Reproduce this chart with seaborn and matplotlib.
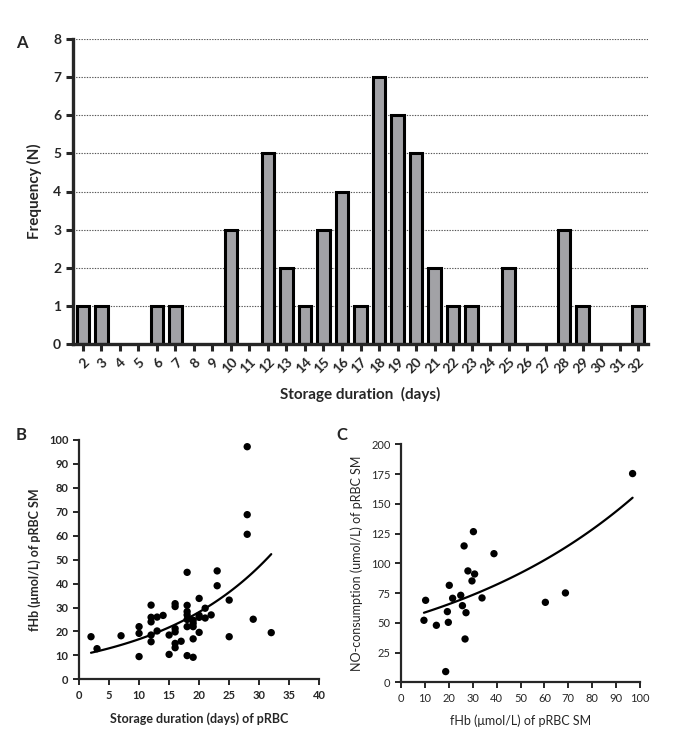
import numpy as np
import pandas as pd
import matplotlib
matplotlib.use('Agg')
import matplotlib.pyplot as plt
import seaborn as sns

# panel A: storage duration histogram
days_all = list(range(2, 33))
hist_days = [2, 3, 6, 7, 10, 12, 13, 14, 15, 16, 17, 18, 19, 20, 21, 22, 23, 25, 28, 29, 32]
hist_counts = [1, 1, 1, 1, 3, 5, 2, 1, 3, 4, 1, 7, 6, 5, 2, 1, 1, 2, 3, 1, 1]

# panel B: storage duration vs fHb
b_days = [2, 3, 7, 10, 10, 10, 12, 12, 12, 12, 12, 13, 13, 14, 15, 15,
          16, 16, 16, 16, 16, 16, 17, 18, 18, 18, 18, 18, 18, 18,
          19, 19, 19, 19, 19, 20, 20, 20, 20, 21, 21, 22, 23, 23,
          25, 25, 28, 28, 28, 29, 32]
b_fhb = [17.8, 12.8, 18.2, 22.0, 19.2, 9.5, 31.0, 25.9, 24.0, 18.5, 15.7, 26.0, 20.2, 26.7, 18.5, 10.4,
         31.6, 30.4, 21.2, 19.8, 15.0, 13.2, 15.9, 44.7, 30.9, 28.3, 26.9, 25.0, 22.0, 9.9,
         24.7, 23.4, 22.0, 16.9, 9.2, 33.8, 26.7, 25.9, 19.6, 29.7, 25.6, 26.9, 45.3, 39.1,
         33.1, 17.8, 97.2, 68.8, 60.6, 25.1, 19.5]
b_fit_a, b_fit_k = 10.0, 0.0517   # exponential growth fit
b_fit_range = (2, 32)

# panel C: fHb vs NO-consumption
c_fhb = [9.6, 10.3, 14.8, 18.7, 19.4, 19.8, 20.2, 21.6, 25.0, 25.7, 26.4, 26.8, 27.2,
         28.0, 29.7, 30.3, 30.8, 33.9, 38.9, 60.4, 68.8, 96.9]
c_no = [52.1, 68.9, 47.9, 9.0, 59.4, 50.4, 81.5, 70.6, 73.1, 64.4, 114.6, 36.4, 58.5,
        93.6, 85.2, 126.6, 91.0, 70.9, 108.1, 67.2, 75.1, 175.4]
c_fit_a, c_fit_k = 52.5, 0.01118
c_fit_range = (9.6, 96.9)

sns.set_style('ticks')
plt.rcParams['font.family'] = ['Lato', 'DejaVu Sans']
plt.rcParams['font.weight'] = 'bold'
plt.rcParams['axes.labelweight'] = 'bold'

fig = plt.figure(figsize=(6.85, 7.44), dpi=100)

# ---- A ----
axA = fig.add_axes([73/685, 1-344/744, 575/685, 305/744])
dfA = pd.DataFrame({'day': [str(d) for d in hist_days], 'n': hist_counts})
sns.barplot(data=dfA, x='day', y='n', order=[str(d) for d in days_all],
            color='#a2a2a6', saturation=1, width=0.68,
            edgecolor='black', linewidth=2.2, ax=axA)
axA.set_axisbelow(True)
axA.yaxis.grid(True, linestyle=(0, (1.2, 1.2)), color='#555555', linewidth=0.8)
axA.set_ylim(0, 8)
axA.set_xlim(-0.54, 30.54)
axA.set_yticks(range(0, 9))
sns.despine(ax=axA)
for s in ['left', 'bottom']:
    axA.spines[s].set_linewidth(2.4)
axA.tick_params(width=2.2, length=5, labelsize=10)
plt.setp(axA.get_xticklabels(), rotation=45, ha='right', rotation_mode='anchor')
axA.set_xlabel('Storage duration  (days)', fontsize=11, labelpad=8)
axA.set_ylabel('Frequency (N)', fontsize=11, labelpad=8)
fig.text(22/685, 1-43/744, 'A', fontsize=12, fontweight='bold', ha='center', va='center')

# ---- B ----
axB = fig.add_axes([79/685, 1-679.3/744, 240.3/685, 239.3/744])
sns.scatterplot(x=b_days, y=b_fhb, color='black', s=28, edgecolor='none', ax=axB)
xb = np.linspace(*b_fit_range, 100)
axB.plot(xb, b_fit_a*np.exp(b_fit_k*xb), color='black', lw=1.6)
axB.set_xlim(0, 40)
axB.set_ylim(0, 100)
axB.set_xticks(range(0, 41, 5))
axB.set_yticks(range(0, 101, 10))
sns.despine(ax=axB)
for s in ['left', 'bottom']:
    axB.spines[s].set_linewidth(1.6)
axB.tick_params(width=1.4, length=4, labelsize=8)
axB.set_xlabel('Storage duration (days) of pRBC', fontsize=9, labelpad=8)
axB.set_ylabel('fHb (\u03bcmol/L) of pRBC SM', fontsize=9, labelpad=6)
fig.text(21/685, 1-435/744, 'B', fontsize=12, fontweight='bold', ha='center', va='center')

# ---- C ----
axC = fig.add_axes([401/685, 1-682.3/744, 239/685, 238/744])
sns.scatterplot(x=c_fhb, y=c_no, color='black', s=28, edgecolor='none', ax=axC)
xc = np.linspace(*c_fit_range, 100)
axC.plot(xc, c_fit_a*np.exp(c_fit_k*xc), color='black', lw=1.6)
axC.set_xlim(0, 100)
axC.set_ylim(0, 200)
axC.set_xticks(range(0, 101, 10))
axC.set_yticks(range(0, 201, 25))
sns.despine(ax=axC)
for s in ['left', 'bottom']:
    axC.spines[s].set_linewidth(1.6)
axC.tick_params(width=1.4, length=4, labelsize=8)
plt.setp(axC.get_xticklabels() + axC.get_yticklabels(), fontweight='normal')
axC.set_xlabel('fHb (\u03bcmol/L) of pRBC SM', fontsize=9, labelpad=8, fontweight='normal')
axC.set_ylabel('NO-consumption (umol/L) of pRBC SM', fontsize=9, labelpad=6, fontweight='normal')
fig.text(342/685, 1-435/744, 'C', fontsize=12, fontweight='bold', ha='center', va='center')

fig.savefig('out.png', dpi=100)
